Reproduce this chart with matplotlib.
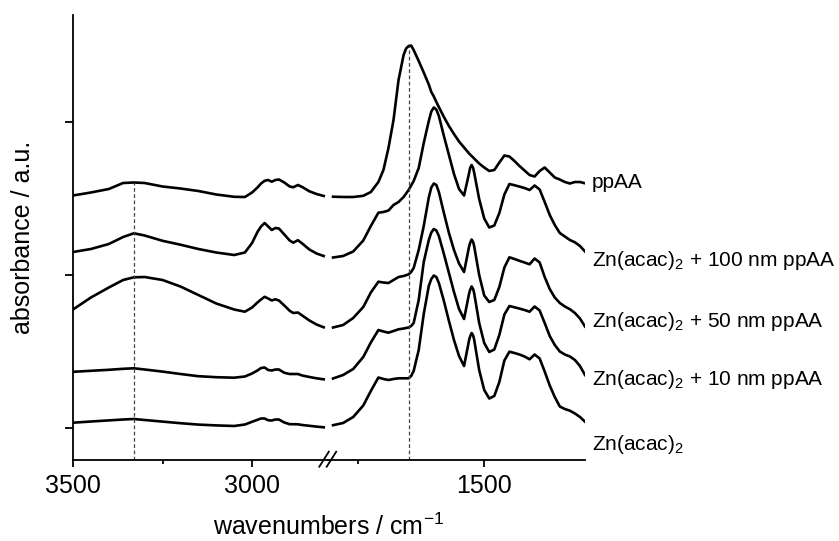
import numpy as np
import matplotlib
matplotlib.use("Agg")
import matplotlib.pyplot as plt
from matplotlib.lines import Line2D

plt.rcParams['font.family'] = ['Liberation Sans', 'DejaVu Sans']
plt.rcParams['mathtext.fontset'] = 'custom'
plt.rcParams['mathtext.rm'] = 'Liberation Sans'
plt.rcParams['mathtext.it'] = 'Liberation Sans:italic'
plt.rcParams['mathtext.bf'] = 'Liberation Sans:bold'

# wavenumber grids (cm^-1) for the two parts of the broken axis
wn_high = [3500, 3450, 3400, 3360, 3330, 3300, 3250, 3200, 3150, 3100, 3050, 3020, 3000,
           2985, 2975, 2965, 2955, 2945, 2935, 2925, 2910, 2895, 2885, 2872, 2860, 2840,
           2820, 2800]
wn_low = [1800, 1780, 1760, 1740, 1725, 1710, 1700, 1690, 1680, 1670, 1660,
          1655, 1650, 1645, 1640, 1630, 1620, 1610, 1605, 1600, 1595, 1590, 1580, 1570,
          1560, 1550, 1540, 1530, 1528, 1525, 1522, 1520, 1510, 1500,
          1490, 1480, 1470, 1460, 1450, 1440, 1430, 1420, 1410, 1400, 1390, 1380, 1370,
          1360, 1350, 1340, 1330, 1320, 1310, 1300]

# stacked absorbance (a.u.)
ppaa_high = [2.325, 2.355, 2.39, 2.45, 2.455, 2.45, 2.415, 2.395, 2.37, 2.335, 2.312, 2.31,
             2.355, 2.405, 2.445, 2.472, 2.48, 2.463, 2.48, 2.485, 2.455, 2.415, 2.407, 2.43,
             2.41, 2.367, 2.34, 2.32]
ppaa_low = [2.313, 2.31, 2.31, 2.322, 2.36, 2.46, 2.58, 2.8, 3.08, 3.48, 3.73,
            3.795, 3.82, 3.825, 3.78, 3.67, 3.555, 3.435, 3.36, 3.315, 3.26, 3.21, 3.11,
            3.02, 2.94, 2.865, 2.805, 2.745, 2.735, 2.72, 2.705, 2.695, 2.645, 2.605,
            2.57, 2.58, 2.655, 2.725, 2.715, 2.67, 2.62, 2.575, 2.53, 2.515, 2.57, 2.605,
            2.555, 2.505, 2.485, 2.46, 2.445, 2.46, 2.46, 2.447]

zn100_high = [1.76, 1.79, 1.84, 1.91, 1.947, 1.925, 1.872, 1.833, 1.79, 1.755, 1.73, 1.755,
              1.85, 1.96, 2.015, 2.05, 2.015, 1.98, 2.0, 1.995, 1.935, 1.875, 1.853, 1.878,
              1.845, 1.785, 1.745, 1.72]
zn100_low = [1.705, 1.72, 1.765, 1.875, 2.02, 2.153, 2.16, 2.175, 2.23, 2.26, 2.31,
             2.345, 2.38, 2.425, 2.47, 2.6, 2.85, 3.07, 3.165, 3.205, 3.185, 3.12, 2.92,
             2.73, 2.54, 2.39, 2.325, 2.55, 2.60, 2.63, 2.60, 2.555, 2.29, 2.095,
             2.005, 2.025, 2.15, 2.335, 2.44, 2.428, 2.414, 2.4, 2.38, 2.425, 2.385, 2.26,
             2.13, 2.03, 1.95, 1.915, 1.88, 1.857, 1.82, 1.765]

zn50_high = [1.185, 1.305, 1.405, 1.48, 1.507, 1.51, 1.48, 1.415, 1.33, 1.245, 1.185, 1.163,
             1.205, 1.255, 1.285, 1.312, 1.295, 1.275, 1.287, 1.275, 1.225, 1.172, 1.15,
             1.155, 1.125, 1.075, 1.035, 1.007]
zn50_low = [1.005, 1.03, 1.1, 1.21, 1.355, 1.463, 1.455, 1.45, 1.48, 1.51, 1.52,
            1.528, 1.537, 1.56, 1.6, 1.78, 2.02, 2.305, 2.405, 2.445, 2.43, 2.36, 2.15,
            1.95, 1.78, 1.645, 1.56, 1.815, 1.85, 1.885, 1.86, 1.82, 1.53, 1.325,
            1.26, 1.28, 1.41, 1.605, 1.707, 1.69, 1.672, 1.655, 1.637, 1.695, 1.655, 1.51,
            1.39, 1.305, 1.25, 1.215, 1.188, 1.15, 1.095, 1.015]

zn10_high = [0.562, 0.572, 0.582, 0.592, 0.597, 0.585, 0.564, 0.54, 0.518, 0.508, 0.503,
             0.515, 0.545, 0.575, 0.6, 0.605, 0.58, 0.575, 0.585, 0.585, 0.552, 0.54, 0.54,
             0.54, 0.525, 0.51, 0.497, 0.487]
zn10_low = [0.495, 0.53, 0.59, 0.71, 0.855, 0.98, 0.965, 0.953, 0.97, 0.987, 0.995,
            1.0, 1.005, 1.02, 1.05, 1.28, 1.66, 1.88, 1.955, 1.99, 1.975, 1.92, 1.74,
            1.55, 1.36, 1.19, 1.09, 1.345, 1.38, 1.415, 1.39, 1.35, 1.05, 0.85,
            0.76, 0.785, 0.93, 1.135, 1.22, 1.207, 1.194, 1.18, 1.163, 1.215, 1.175, 1.05,
            0.92, 0.83, 0.765, 0.735, 0.715, 0.68, 0.62, 0.53]

zn_high = [0.053, 0.065, 0.076, 0.085, 0.09, 0.08, 0.064, 0.048, 0.034, 0.026, 0.02, 0.035,
           0.062, 0.082, 0.095, 0.095, 0.077, 0.075, 0.085, 0.085, 0.055, 0.038, 0.038,
           0.037, 0.03, 0.022, 0.014, 0.007]
zn_low = [0.028, 0.05, 0.11, 0.225, 0.37, 0.505, 0.49, 0.48, 0.49, 0.497, 0.497,
          0.497, 0.497, 0.52, 0.57, 0.78, 1.14, 1.42, 1.49, 1.525, 1.51, 1.45, 1.27,
          1.07, 0.88, 0.72, 0.62, 0.88, 0.915, 0.95, 0.925, 0.885, 0.58, 0.38,
          0.295, 0.32, 0.46, 0.675, 0.763, 0.75, 0.735, 0.715, 0.687, 0.735, 0.695, 0.565,
          0.425, 0.31, 0.215, 0.19, 0.173, 0.145, 0.11, 0.063]

labels = ['ppAA', 'Zn(acac)$_2$ + 100 nm ppAA', 'Zn(acac)$_2$ + 50 nm ppAA',
          'Zn(acac)$_2$ + 10 nm ppAA', 'Zn(acac)$_2$']
label_y = [2.40, 1.623, 1.013, 0.43, -0.22]
highs = [ppaa_high, zn100_high, zn50_high, zn10_high, zn_high]
lows = [ppaa_low, zn100_low, zn50_low, zn10_low, zn_low]

# marker lines (N-H stretch and bend of ppAA)
mark_high = 3330
mark_low = 1650

y_min, y_max = -0.32, 4.13
lw_axis = 1.3

fig = plt.figure(figsize=(8.39, 5.41), dpi=100)
ax1 = fig.add_axes([73 / 839, 81 / 541, 255 / 839, 445 / 541])
ax2 = fig.add_axes([328 / 839, 81 / 541, 257 / 839, 445 / 541])

for hi, lo in zip(highs, lows):
    ax1.plot(wn_high, hi, color='black', lw=1.9, solid_joinstyle='round')
    ax2.plot(wn_low, lo, color='black', lw=1.9, solid_joinstyle='round')

# dotted guides up to the ppAA trace
ax1.vlines(mark_high, y_min, ppaa_high[wn_high.index(mark_high)], colors='#444444',
           lw=0.9, linestyles=(0, (3, 2)))
ax2.vlines(mark_low, y_min, ppaa_low[wn_low.index(mark_low)], colors='#444444',
           lw=0.9, linestyles=(0, (3, 2)))

for lab, yl in zip(labels, label_y):
    ax2.text(1286, yl, lab, fontsize=15, ha='left', va='baseline', clip_on=False)

ax1.set_xlim(3500, 2788)
ax2.set_xlim(1810, 1300)
for ax in (ax1, ax2):
    ax.set_ylim(y_min, y_max)
    ax.patch.set_visible(False)
    for side in ('top', 'right'):
        ax.spines[side].set_visible(False)
    ax.spines['bottom'].set_linewidth(lw_axis)
    ax.tick_params(axis='x', which='major', direction='out', length=5, width=lw_axis,
                   labelsize=18, pad=5)
    ax.tick_params(axis='x', which='minor', direction='out', length=3, width=lw_axis)

ax1.spines['left'].set_linewidth(lw_axis)
ax2.spines['left'].set_visible(False)

ax1.set_xticks([3500, 3000])
ax1.set_xticks([3250], minor=True)
ax2.set_xticks([1500])
ax2.set_xticks([1750], minor=True)

ax1.set_yticks([0, 1.53, 3.06])
ax1.set_yticklabels([])
ax1.tick_params(axis='y', direction='out', length=6, width=lw_axis)
ax2.set_yticks([])

# axis break marks
for x0 in (319.3, 326.7):
    fig.add_artist(Line2D([x0 / 839, (x0 + 9.5) / 839], [1 - 466.7 / 541, 1 - 451.7 / 541],
                          transform=fig.transFigure, color='black', lw=lw_axis))

fig.text(329 / 839, 1 - 527 / 541, 'wavenumbers / cm$^{-1}$', fontsize=18,
         ha='center', va='center')
fig.text(23 / 839, 1 - 237 / 541, 'absorbance / a.u.', fontsize=18, rotation=90,
         ha='center', va='center')

fig.savefig('out.png', dpi=100)
